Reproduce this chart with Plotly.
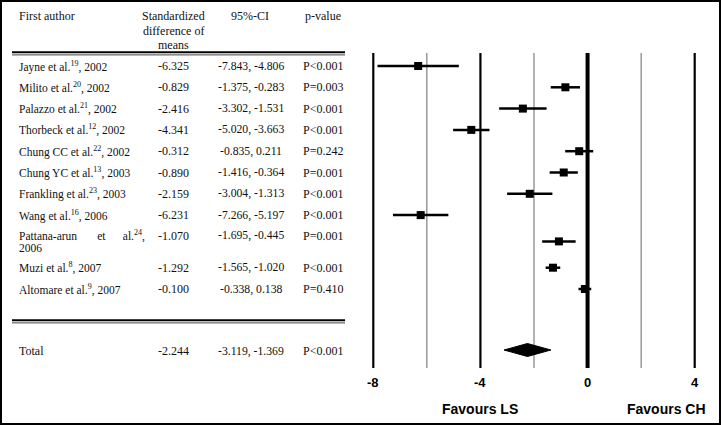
import plotly.graph_objects as go

# ---------------- data ----------------
authors = [
    "Jayne et al.<sup>19</sup>, 2002",
    "Milito et al.<sup>20</sup>, 2002",
    "Palazzo et al.<sup>21</sup>, 2002",
    "Thorbeck et al.<sup>12</sup>, 2002",
    "Chung CC et al.<sup>22</sup>, 2002",
    "Chung YC et al.<sup>13</sup>, 2003",
    "Frankling et al.<sup>23</sup>, 2003",
    "Wang et al.<sup>16</sup>, 2006",
    "Pattana-arun&nbsp;&nbsp;&nbsp;&nbsp;&nbsp;&nbsp; et &nbsp;&nbsp;&nbsp;&nbsp;&nbsp;al.<sup>24</sup>,|2006",
    "Muzi et al.<sup>8</sup>, 2007",
    "Altomare et al.<sup>9</sup>, 2007",
]
smd = [-6.325, -0.829, -2.416, -4.341, -0.312, -0.890, -2.159, -6.231, -1.070, -1.292, -0.100]
ci_lo = [-7.843, -1.375, -3.302, -5.020, -0.835, -1.416, -3.004, -7.266, -1.695, -1.565, -0.338]
ci_hi = [-4.806, -0.283, -1.531, -3.663, 0.211, -0.364, -1.313, -5.197, -0.445, -1.020, 0.138]
pvals = ["P<0.001", "P=0.003", "P<0.001", "P<0.001", "P=0.242", "P=0.001",
         "P<0.001", "P<0.001", "P=0.001", "P<0.001", "P=0.410"]
total_label = "Total"
total_smd = -2.244
total_lo = -3.119
total_hi = -1.369
total_p = "P<0.001"

tick_vals = [-8, -4, 0, 4]
tick_text = ["-8", "-4", "0", "4"]
grid_thin = [-6, -2, 2]
headers = ["First author", "Standardized<br>difference of<br>means", "95%-CI", "p-value"]
favours = ["Favours LS", "Favours CH"]

# ---------------- layout helpers ----------------
W, H = 721, 425
PX_PER_UNIT = (694.7 - 373.3) / 12.0
X0 = -8 - 373.3 / PX_PER_UNIT
X1 = X0 + W / PX_PER_UNIT

# row centres (pixel rows, y axis runs 0..425 downward)
row_y = []
y = 66.0
for i, a in enumerate(authors):
    if "|" in a:
        y += 5.0
        row_y.append(y)
        y += 5.0
    else:
        row_y.append(y)
    y += 21.3
total_y = 350.0

def px(xpix):
    return xpix / W

SERIF = "Liberation Serif, Times New Roman, serif"
SANS = "Liberation Sans, Arial, sans-serif"
tfont = dict(family=SERIF, size=12, color="#111")
afont = dict(family=SERIF, size=11.5, color="#111")
cfont = dict(family=SERIF, size=11.7, color="#111")
LEFT = 16.5

fig = go.Figure()

# study estimates with CIs
fig.add_trace(go.Scatter(
    x=smd, y=row_y, mode="markers",
    marker=dict(symbol="square", size=8, color="black"),
    error_x=dict(type="data", symmetric=False,
                 array=[h - m for h, m in zip(ci_hi, smd)],
                 arrayminus=[m - l for m, l in zip(smd, ci_lo)],
                 thickness=2.5, width=0, color="black"),
    hoverinfo="skip", showlegend=False,
))

# total diamond
dh = 6.5
fig.add_trace(go.Scatter(
    x=[total_lo, total_smd, total_hi, total_smd, total_lo],
    y=[total_y, total_y - dh, total_y, total_y + dh, total_y],
    mode="lines", fill="toself", fillcolor="black",
    line=dict(color="black", width=1), hoverinfo="skip", showlegend=False,
))

shapes = []
ytop, ybot = 53, 368
for v in tick_vals:
    w = 4 if v == 0 else 2.2
    shapes.append(dict(type="line", xref="x", yref="y", x0=v, x1=v, y0=ytop, y1=ybot,
                       line=dict(color="black", width=w), layer="below"))
for v in grid_thin:
    shapes.append(dict(type="line", xref="x", yref="y", x0=v, x1=v, y0=ytop, y1=ybot,
                       line=dict(color="#666", width=1), layer="below"))

# table double rules
for yy in (52.3, 320.3):
    shapes.append(dict(type="line", xref="paper", yref="y", x0=px(12), x1=px(345), y0=yy, y1=yy,
                       line=dict(color="black", width=2)))
    shapes.append(dict(type="line", xref="paper", yref="y", x0=px(12), x1=px(345), y0=yy + 2.6, y1=yy + 2.6,
                       line=dict(color="#444", width=1)))

# border
shapes.append(dict(type="rect", xref="paper", yref="paper", x0=px(1), x1=px(720), y0=1 / H, y1=1 - 1 / H,
                   line=dict(color="black", width=2)))

ann = []
# headers
ann.append(dict(x=px(LEFT), y=16, xref="paper", yref="y", text=headers[0], showarrow=False,
                xanchor="left", yanchor="middle", font=tfont))
for i, line in enumerate(headers[1].split("<br>")):
    ann.append(dict(x=px(173), y=16 + i * 14.7, xref="paper", yref="y", text=line, showarrow=False,
                    xanchor="center", yanchor="middle", font=tfont))
ann.append(dict(x=px(250), y=16, xref="paper", yref="y", text=headers[2], showarrow=False,
                xanchor="center", yanchor="middle", font=tfont))
ann.append(dict(x=px(323), y=16, xref="paper", yref="y", text=headers[3], showarrow=False,
                xanchor="center", yanchor="middle", font=tfont))

def fmt(v):
    return f"{v:.3f}"

for a, m, l, h, p, yy in zip(authors, smd, ci_lo, ci_hi, pvals, row_y):
    if "|" in a:
        l1, l2 = a.split("|")
        ann.append(dict(x=px(LEFT), y=yy - 6, xref="paper", yref="y", text=l1, showarrow=False,
                        xanchor="left", yanchor="middle", font=afont))
        ann.append(dict(x=px(LEFT), y=yy + 6.5, xref="paper", yref="y", text=l2, showarrow=False,
                        xanchor="left", yanchor="middle", font=afont))
        ty = yy - 5.5
    else:
        ann.append(dict(x=px(LEFT), y=yy, xref="paper", yref="y", text=a, showarrow=False,
                        xanchor="left", yanchor="middle", font=afont))
        ty = yy
    ann.append(dict(x=px(173), y=ty, xref="paper", yref="y", text=fmt(m), showarrow=False,
                    xanchor="center", yanchor="middle", font=tfont))
    ann.append(dict(x=px(251), y=ty, xref="paper", yref="y", text=f"{fmt(l)}, {fmt(h)}", showarrow=False,
                    xanchor="center", yanchor="middle", font=cfont))
    ann.append(dict(x=px(323), y=ty, xref="paper", yref="y", text=p, showarrow=False,
                    xanchor="center", yanchor="middle", font=tfont))

# total row
ann.append(dict(x=px(LEFT), y=total_y + 1, xref="paper", yref="y", text=total_label, showarrow=False,
                xanchor="left", yanchor="middle", font=tfont))
ann.append(dict(x=px(173), y=total_y + 1, xref="paper", yref="y", text=fmt(total_smd), showarrow=False,
                xanchor="center", yanchor="middle", font=tfont))
ann.append(dict(x=px(251), y=total_y + 1, xref="paper", yref="y", text=f"{fmt(total_lo)}, {fmt(total_hi)}",
                showarrow=False, xanchor="center", yanchor="middle", font=cfont))
ann.append(dict(x=px(323), y=total_y + 1, xref="paper", yref="y", text=total_p, showarrow=False,
                xanchor="center", yanchor="middle", font=tfont))

# tick labels
for v, t in zip(tick_vals, tick_text):
    ann.append(dict(x=v, y=382, xref="x", yref="y", text=f"<b>{t}</b>", showarrow=False,
                    xanchor="center", yanchor="middle", font=dict(family=SANS, size=13, color="black")))

# favours labels
ann.append(dict(x=-4, y=409, xref="x", yref="y", text=f"<b>{favours[0]}</b>", showarrow=False,
                xanchor="center", yanchor="middle", font=dict(family=SANS, size=14, color="black")))
ann.append(dict(x=2.95, y=409, xref="x", yref="y", text=f"<b>{favours[1]}</b>", showarrow=False,
                xanchor="center", yanchor="middle", font=dict(family=SANS, size=14, color="black")))

fig.update_layout(
    width=W, height=H,
    margin=dict(l=0, r=0, t=0, b=0),
    paper_bgcolor="white", plot_bgcolor="white",
    xaxis=dict(range=[X0, X1], visible=False, fixedrange=True),
    yaxis=dict(range=[H, 0], visible=False, fixedrange=True),
    shapes=shapes, annotations=ann, showlegend=False,
)

fig.write_html("out.html", config={"displayModeBar": False, "staticPlot": True},
               post_script="document.body.style.margin='0';document.body.style.overflow='hidden';")
